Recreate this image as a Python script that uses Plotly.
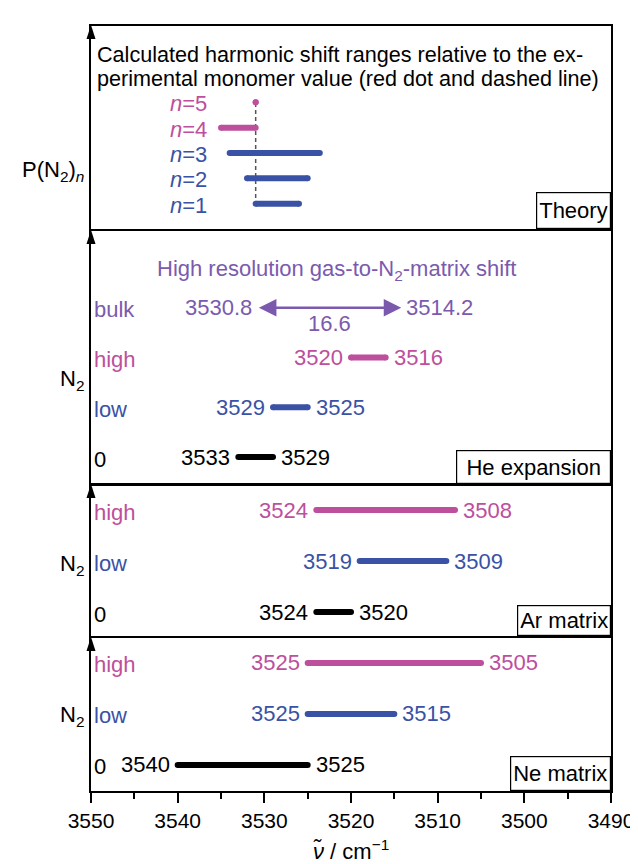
import plotly.graph_objects as go

FONT = "Liberation Sans, Arial, sans-serif"
PINK = "#bd4f9d"
BLUE = "#3a52a5"
PURPLE = "#7b5aae"
BLACK = "#000000"
GREY = "#555555"

# ---------------- data ----------------
x_range = [3550, 3490]
x_tick_step = 10
x_minor_step = 5

# Theory panel: calculated harmonic shift ranges for (N2)n
theory_n = [1, 2, 3, 4, 5]
theory_labels = ["<i>n</i>=1", "<i>n</i>=2", "<i>n</i>=3", "<i>n</i>=4", "<i>n</i>=5"]
theory_start = [3531, 3532, 3534, 3535, 3531]
theory_end = [3526, 3525, 3523.6, 3531, 3531]
monomer_value = 3531

# He expansion panel
he_rows = ["0", "low", "high"]
he_start = [3533, 3529, 3520]
he_end = [3529, 3525, 3516]
bulk_label = "bulk"
bulk_start = 3530.8
bulk_end = 3514.2

# Ar matrix panel
ar_rows = ["0", "low", "high"]
ar_start = [3524, 3519, 3524]
ar_end = [3520, 3509, 3508]

# Ne matrix panel
ne_rows = ["0", "low", "high"]
ne_start = [3540, 3525, 3525]
ne_end = [3525, 3515, 3505]

# ---------------- styling ----------------
row_color = {"0": BLACK, "low": BLUE, "high": PINK, "bulk": PURPLE}
theory_color = [BLUE, BLUE, BLUE, PINK, PINK]
FS = 22
TICK_FS = 21
LW = 6

# panel index: 1 = Ne (bottom), 2 = Ar, 3 = He, 4 = Theory (top)
domains = {1: [0.0, 0.2], 2: [0.2026, 0.4], 3: [0.4013, 0.732], 4: [0.7346, 1.0]}
yranges = {1: [-0.51, 2.49], 2: [-0.47, 2.49], 3: [-0.54, 4.54], 4: [0.0, 8.01]}


def ax(i, kind):
    return kind if i == 1 else f"{kind}{i}"


fig = go.Figure()
annotations = []
shapes = []


def add_bar(i, s, e, y, color):
    fig.add_trace(go.Scatter(
        x=[s, e], y=[y, y], mode="lines+markers",
        line=dict(color=color, width=LW),
        marker=dict(color=color, size=LW),
        xaxis=ax(i, "x"), yaxis=ax(i, "y"), showlegend=False, hoverinfo="skip"))


def add_text(i, text, x, y, color, xanchor="center", xshift=0, yshift=0, xref=None, size=FS):
    annotations.append(dict(
        text=text, x=x, y=y, xref=xref or ax(i, "x"), yref=ax(i, "y"),
        xanchor=xanchor, yanchor="middle", xshift=xshift, yshift=yshift,
        showarrow=False, font=dict(family=FONT, size=size, color=color)))


def fmt(v):
    return f"{v:g}"


# ---- Theory panel ----
fig.add_trace(go.Scatter(
    x=[monomer_value, monomer_value], y=[theory_n[0] - 0.05, theory_n[-1]], mode="lines",
    line=dict(color=GREY, width=1.5, dash="4px,3px"),
    xaxis="x4", yaxis="y4", showlegend=False, hoverinfo="skip"))
for n, s, e, c, lab in zip(theory_n, theory_start, theory_end, theory_color, theory_labels):
    add_bar(4, s, e, n, c)
    add_text(4, lab, 0.2278, n, c, xanchor="right", xref="x4 domain", yshift=-1.5)

TITLE_FS = 21.6
annotations.append(dict(
    text="Calculated harmonic shift ranges relative to the ex-",
    x=0, y=1, xref="x4 domain", yref="y4 domain", xanchor="left", yanchor="middle",
    xshift=4, yshift=-28.5, showarrow=False, font=dict(family=FONT, size=TITLE_FS, color=BLACK)))
annotations.append(dict(
    text="perimental monomer value (red dot and dashed line)",
    x=0, y=1, xref="x4 domain", yref="y4 domain", xanchor="left", yanchor="middle",
    xshift=4, yshift=-52.5, showarrow=False, font=dict(family=FONT, size=TITLE_FS, color=BLACK)))

# ---- row panels ----
panels = [
    (3, he_rows, he_start, he_end),
    (2, ar_rows, ar_start, ar_end),
    (1, ne_rows, ne_start, ne_end),
]
for i, rows, starts, ends in panels:
    for k, (r, s, e) in enumerate(zip(rows, starts, ends)):
        c = row_color[r]
        add_bar(i, s, e, k, c)
        add_text(i, fmt(s), s, k, c, xanchor="right", xshift=-6)
        add_text(i, fmt(e), e, k, c, xanchor="left", xshift=6)
        add_text(i, r, 0, k, c, xanchor="left", xshift=1, yshift=-2, xref=f"{ax(i, 'x')} domain")

# He bulk row: double arrow
ybulk = len(he_rows)
annotations.append(dict(
    x=bulk_end, y=ybulk, ax=bulk_start, ay=ybulk, xref="x3", yref="y3", axref="x3", ayref="y3",
    text="", showarrow=True, arrowhead=2, arrowside="end+start", arrowsize=1.35,
    arrowwidth=2.6, arrowcolor=PURPLE, standoff=0, startstandoff=0))
add_text(3, fmt(bulk_start), bulk_start, ybulk, PURPLE, xanchor="right", xshift=-3)
add_text(3, fmt(bulk_end), bulk_end, ybulk, PURPLE, xanchor="left", xshift=3)
add_text(3, fmt(round(bulk_start - bulk_end, 1)), (bulk_start + bulk_end) / 2, ybulk - 0.32, PURPLE)
add_text(3, bulk_label, 0, ybulk, PURPLE, xanchor="left", xshift=1, yshift=-2, xref="x3 domain")
add_text(3, "High resolution gas-to-N<sub>2</sub>-matrix shift", 0.4716, ybulk + 0.76, PURPLE,
         xref="x3 domain")

# ---- panel name boxes ----
box_names = {4: ("Theory", None, 31), 3: ("He expansion", 149, 28), 2: ("Ar matrix", None, 25), 1: ("Ne matrix", None, 29)}
for i, (name, w, h) in box_names.items():
    d = dict(text=name, x=1, y=0, xref=f"{ax(i, 'x')} domain", yref=f"{ax(i, 'y')} domain",
             xanchor="right", yanchor="bottom", showarrow=False,
             font=dict(family=FONT, size=FS, color=BLACK),
             bordercolor=BLACK, borderwidth=1.2, borderpad=2, bgcolor="white", height=h)
    if w:
        d["width"] = w
    annotations.append(d)

# ---- y labels ----
ylabels = {4: ("P(N<sub>2</sub>)<sub><i>n</i></sub>", 0.286), 3: ("N<sub>2</sub>", 0.41),
           2: ("N<sub>2</sub>", 0.47), 1: ("N<sub>2</sub>", 0.49)}
for i, (t, yy) in ylabels.items():
    annotations.append(dict(text=t, x=0, y=yy, xref="paper", yref=f"{ax(i, 'y')} domain",
                            xanchor="right", yanchor="middle", xshift=-5, showarrow=False,
                            font=dict(family=FONT, size=FS, color=BLACK)))

# ---- x title ----
annotations.append(dict(text="<i>ν̃</i> / cm<sup>−1</sup>", x=0.5, y=-0.077, xref="paper", yref="paper",
                        xanchor="center", yanchor="middle", showarrow=False,
                        font=dict(family=FONT, size=FS, color=BLACK)))

# ---- arrowheads on the left axes ----
for i in range(1, 5):
    shapes.append(dict(type="path", xref="paper", yref=f"{ax(i, 'y')} domain",
                       xsizemode="pixel", ysizemode="pixel", xanchor=0, yanchor=1,
                       path="M-4.5,-13 L0,1 L4.5,-13 Z", fillcolor=BLACK, line=dict(width=0)))

layout = dict(
    width=638, height=864,
    margin=dict(l=83, r=27, t=18, b=81),
    paper_bgcolor="white", plot_bgcolor="white",
    font=dict(family=FONT, size=FS, color=BLACK),
    showlegend=False,
    annotations=annotations, shapes=shapes,
)
for i in range(1, 5):
    xa = dict(range=x_range, domain=[0, 1], anchor=ax(i, "y"), showline=True, mirror=True,
              linecolor=BLACK, linewidth=1.8, showgrid=False, zeroline=False, fixedrange=True)
    if i == 1:
        xa.update(ticks="outside", ticklen=10, tickwidth=1.8, tickcolor=BLACK, dtick=x_tick_step,
                  tick0=x_range[0], tickfont=dict(family=FONT, size=TICK_FS, color=BLACK),
                  minor=dict(ticks="outside", ticklen=6, tickwidth=1.8, tickcolor=BLACK, dtick=x_minor_step))
    else:
        xa.update(matches="x", showticklabels=False, ticks="")
    ya = dict(range=yranges[i], domain=domains[i], anchor=ax(i, "x"), showline=True, mirror=True,
              linecolor=BLACK, linewidth=1.8, showgrid=False, zeroline=False,
              showticklabels=False, ticks="", fixedrange=True)
    layout["xaxis" if i == 1 else f"xaxis{i}"] = xa
    layout["yaxis" if i == 1 else f"yaxis{i}"] = ya

fig.update_layout(**layout)
fig.write_html("out.html")
